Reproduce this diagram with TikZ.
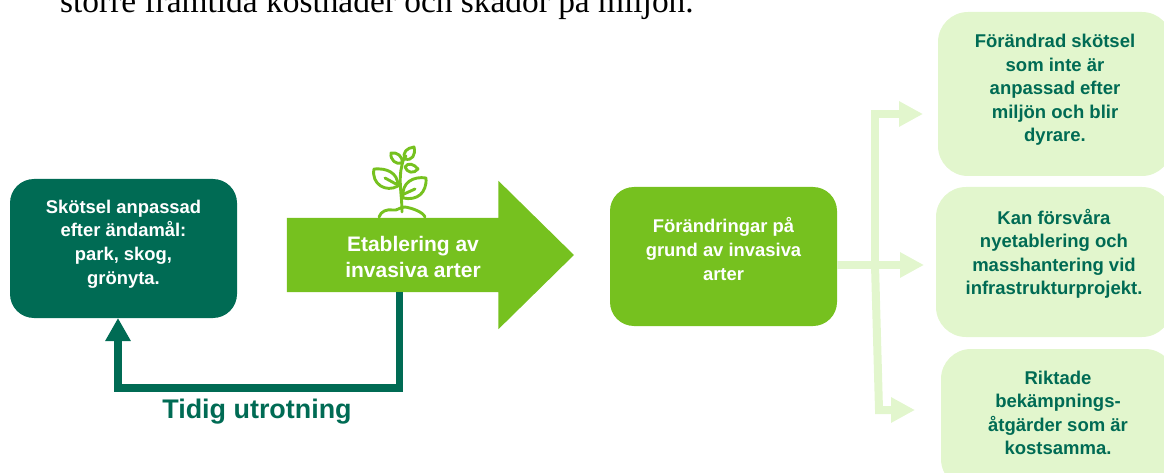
\documentclass[tikz,border=0pt]{standalone}
\usepackage{fontspec}
\setmainfont{Liberation Sans}
\newfontfamily\bodyfont{Liberation Serif}
\usepackage{xcolor}
\usetikzlibrary{shapes,arrows.meta,positioning}
\definecolor{darkgreen}{HTML}{006B54}
\definecolor{midgreen}{HTML}{76C11F}
\definecolor{palegreen}{HTML}{E2F6CD}
\tikzset{
    darkbox/.style={fill=darkgreen, rounded corners=24},
    midbox/.style={fill=midgreen, rounded corners=24},
    palebox/.style={fill=palegreen, rounded corners=30},
    whitetext/.style={text=white, font=\fontsize{18.4}{23.8}\selectfont\bfseries, align=center},
    paletext/.style={text=darkgreen, font=\fontsize{18.5}{23.4}\selectfont\bfseries, align=center},
    loopline/.style={draw=darkgreen, line width=7.6, -{Triangle[length=23,width=24]}},
    paleline/.style={draw=palegreen, line width=8, -{Triangle[length=24,width=24]}},
    plantline/.style={draw=midgreen, line width=2.9, line cap=round, line join=round}
}
\begin{document}
\begin{tikzpicture}[x=1pt, y=-1pt]
    \useasboundingbox (0,0) rectangle (1164,473);
    \clip (0,0) rectangle (1164,473);

    \node [anchor=base west, inner sep=0, font=\bodyfont\fontsize{33.4}{36}\selectfont] (intro) at (60,12.7) {större framtida kostnader och skador på miljön.};

    % boxes
    \node [darkbox, minimum width=227, minimum height=139] (skotsel) at (123.5,248.5) {};
    \node [midbox, minimum width=227, minimum height=139] (forandringar) at (723.5,256.5) {};
    \node [palebox, minimum width=234, minimum height=164] (skotselbox) at (1055,94) {};
    \node [palebox, minimum width=236, minimum height=150] (forsvarabox) at (1054,262) {};
    \node [palebox, minimum width=234, minimum height=140] (riktadebox) at (1058,419) {};

    % big arrow
    \node [fill=midgreen, single arrow, single arrow head extend=37, single arrow tip angle=89, single arrow head indent=0, minimum width=148, minimum height=287, inner xsep=0, inner ysep=37] (etablering) at (411.5,255) {};

    \node [whitetext] (skotseltext) at (123.5,244) {Skötsel anpassad\\efter ändamål:\\park, skog,\\grönyta.};
    \node [whitetext] (forandringartext) at (723.5,249) {Förändringar på\\grund av invasiva\\arter};
    \node [text=white, font=\fontsize{21}{26}\selectfont\bfseries, align=center] (etableringtext) at (413,257) {Etablering av\\invasiva arter};
    \node [paletext] (skotselboxtext) at (1055,90) {Förändrad skötsel\\som inte är\\anpassad efter\\miljön och blir\\dyrare.};
    \node [paletext] (forsvaraboxtext) at (1054,254) {Kan försvåra\\nyetablering och\\masshantering vid\\infrastrukturprojekt.};
    \node [paletext] (riktadeboxtext) at (1058,413) {Riktade\\bekämpnings-\\åtgärder som är\\kostsamma.};
    \node [text=darkgreen, font=\fontsize{26.9}{30}\selectfont\bfseries] (utrotning) at (257,411.5) {Tidig utrotning};

    % connectors
    \coordinate (loopstart) at (399.6,292);
    \coordinate (loopend) at (118,318);
    \draw [loopline] (loopstart) -- (399.6,387.7) -- (118,387.7) -- (loopend);

    \coordinate (hub) at (875,265);
    \coordinate (toptip) at (923,114);
    \coordinate (midtip) at (924,265);
    \coordinate (lowtip) at (915,410);
    \draw [paleline] (forandringar.east |- hub) -- (midtip);
    \draw [paleline, line join=miter] (hub) -- (875,114) -- (toptip);
    \draw [paleline, line join=miter] (hub) -- (879,410) -- (lowtip);

    % plant
    \draw [plantline] (402,212) .. controls (402,195) and (398,180) .. (402,165) .. controls (403,160) and (404,158) .. (406,156);
    \draw [plantline] (379,217) .. controls (381,211) and (387,209) .. (393,210) .. controls (397,211) and (400,207) .. (405,207) .. controls (412,208) and (423,212) .. (425,217);
    \draw [plantline] (374,169) .. controls (386,168) and (398,172) .. (398,186) .. controls (386,193) and (371,184) .. (374,169) -- cycle;
    \draw [plantline] (385,178) -- (396,184);
    \draw [plantline] (426,178) .. controls (414,176) and (401,182) .. (403,198) .. controls (417,201) and (427,193) .. (426,178) -- cycle;
    \draw [plantline] (404,194) -- (415,189);
    \draw [plantline] (414,147) .. controls (407,148) and (402,152) .. (405,159) .. controls (412,161) and (416,155) .. (414,147) -- cycle;
    \draw [plantline] (391,153) .. controls (397,152) and (403,156) .. (402,163) .. controls (396,165) and (390,160) .. (391,153) -- cycle;
    \draw [plantline] (418,169) .. controls (414,164) and (408,162) .. (405,167) .. controls (407,173) and (414,174) .. (418,169) -- cycle;
\end{tikzpicture}
\end{document}
